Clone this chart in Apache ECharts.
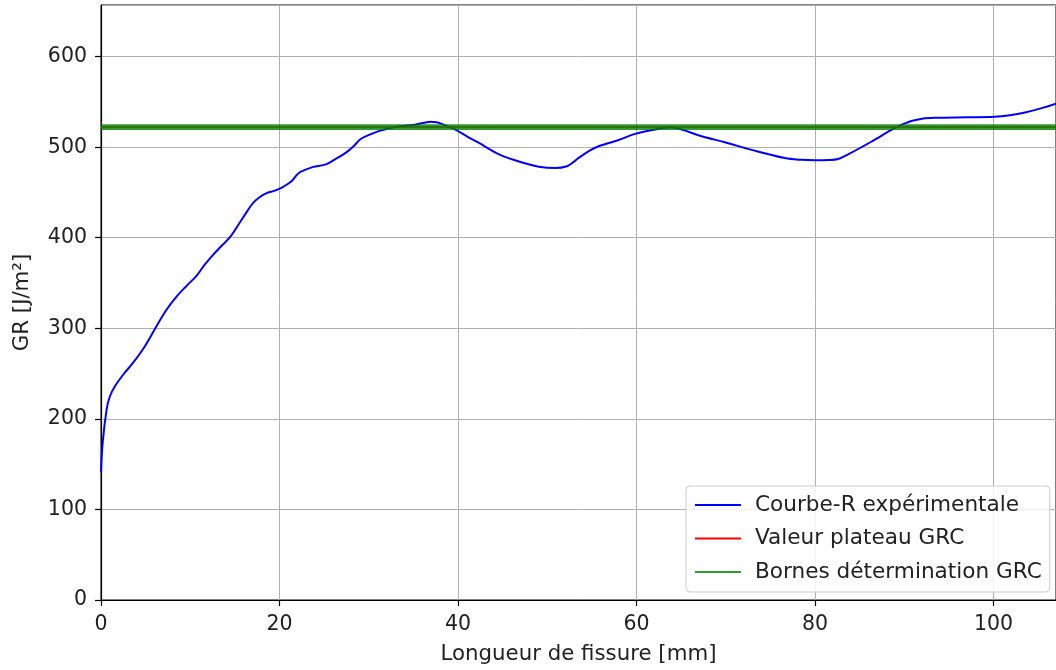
<!DOCTYPE html>
<html>
<head>
<meta charset="utf-8">
<script src="https://cdn.jsdelivr.net/npm/echarts@6/dist/echarts.min.js"></script>
<style>
html,body{margin:0;padding:0;background:#fff;}
#chart{width:1056px;height:670px;}
</style>
</head>
<body>
<div id="chart"></div>
<script>
// Crack length (mm) and experimental R-curve GR (J/m²)
const crackLength = [0, 0.2, 0.64, 1.0, 1.56, 2.5, 3.6, 4.9, 6.2, 7.3, 8.46, 9.6, 10.7, 11.6, 12.55, 13.3, 14.4, 15.5, 16.3, 17.0, 17.8, 18.5, 19.5, 20.2, 21.3, 22.0, 22.4, 23.7, 25.2, 26.3, 27.45, 28.3, 29.1, 30.4, 31.2, 32.3, 33.5, 35.3, 36.2, 36.9, 37.6, 38.1, 39.7, 41.0, 42.3, 44.6, 47.2, 49.05, 50.9, 52.2, 53.0, 53.5, 54.7, 55.75, 58.0, 59.85, 62.1, 63.75, 65.06, 67.3, 69.9, 72.9, 76.6, 78.5, 80.0, 81.5, 82.6, 83.7, 86.3, 88.9, 90.0, 90.8, 92.0, 93.4, 97.1, 100.1, 102.0, 103.4, 105.0, 107.0];
const grValues = [141, 175, 211, 225, 236, 249, 262, 280, 302, 320, 335, 347, 358, 370, 381, 389, 400, 416, 428, 438, 445, 449, 452, 455, 462, 470, 473, 478, 481, 487, 494, 501, 509, 515, 518, 521, 523, 525, 527, 528, 527.5, 526, 519.5, 512, 505, 492, 483, 478.5, 477, 479, 484, 488, 496, 501, 508, 514.7, 519.5, 522, 519.5, 512, 505.5, 497, 488, 486, 485.5, 485.8, 487, 492, 506, 521, 526, 529, 531.5, 532.4, 533, 533.5, 535.5, 538, 542, 548];
const plateauGRC = 522.2;
const boundsGRC = [520.7, 523.7];
const xExtent = [0, 107];
const yExtent = [0, 657];
const xTicks = [0, 20, 40, 60, 80, 100];
const yTicks = [0, 100, 200, 300, 400, 500, 600];
const seriesNames = ['Courbe-R expérimentale', 'Valeur plateau GRC', 'Bornes détermination GRC'];

const curve = crackLength.map((x, i) => [x, grValues[i]]);
const hLine = v => [[xExtent[0], v], [xExtent[1], v]];

const chart = echarts.init(document.getElementById('chart'), null, {renderer: 'canvas'});
const font = 'DejaVu Sans';
chart.setOption({
  animation: false,
  backgroundColor: '#ffffff',
  grid: {left: 101, top: 5, width: 958, height: 596, show: true, borderColor: '#000', borderWidth: 1, backgroundColor: 'transparent'},
  xAxis: {
    type: 'value', min: xExtent[0], max: xExtent[1], interval: 20,
    name: 'Longueur de fissure [mm]', nameLocation: 'middle', nameGap: 44,
    nameTextStyle: {fontFamily: font, fontSize: 21.3, color: '#222'},
    axisLine: {lineStyle: {color: '#000', width: 1.2}},
    axisTick: {show: true, length: 6, lineStyle: {color: '#000', width: 1.2}},
    axisLabel: {fontFamily: font, fontSize: 20.5, color: '#222', margin: 14, showMaxLabel: false,
      formatter: v => xTicks.includes(v) ? String(v) : ''},
    splitLine: {show: true, lineStyle: {color: '#b0b0b0', width: 1}}
  },
  yAxis: {
    type: 'value', min: yExtent[0], max: yExtent[1], interval: 100,
    name: 'GR [J/m²]', nameLocation: 'middle', nameGap: 68,
    nameTextStyle: {fontFamily: font, fontSize: 21.3, color: '#222'},
    axisLine: {show: true, lineStyle: {color: '#000', width: 1.2}},
    axisTick: {show: true, length: 6, lineStyle: {color: '#000', width: 1.2}},
    axisLabel: {fontFamily: font, fontSize: 20.5, color: '#222', margin: 14, showMaxLabel: false,
      formatter: v => yTicks.includes(v) ? String(v) : ''},
    splitLine: {show: true, lineStyle: {color: '#b0b0b0', width: 1}}
  },
  legend: {
    orient: 'vertical', left: 686, top: 486,
    padding: [8, 8, 9, 8],
    itemWidth: 46, itemHeight: 10, itemGap: 11.5,
    itemStyle: {opacity: 0},
    backgroundColor: 'rgba(255,255,255,0.85)', borderColor: '#cccccc', borderWidth: 1, borderRadius: 4,
    textStyle: {fontFamily: font, fontSize: 21.6, color: '#222', lineHeight: 21.5, padding: [0, 0, 0, 9]},
    data: seriesNames
  },
  series: [
    {name: seriesNames[0], type: 'line', data: curve, smooth: 0.35, symbol: 'none', showSymbol: false,
      lineStyle: {color: '#0000ff', width: 2}, itemStyle: {color: '#0000ff'}, z: 3},
    {name: seriesNames[1], type: 'line', data: hLine(plateauGRC), symbol: 'none', showSymbol: false,
      lineStyle: {color: '#ff0000', width: 1.5}, itemStyle: {color: '#ff0000'}, z: 4},
    {name: seriesNames[2], type: 'line', data: hLine(boundsGRC[0]), symbol: 'none', showSymbol: false,
      lineStyle: {color: '#008000', width: 3, opacity: 0.8}, itemStyle: {color: '#008000'}, z: 5},
    {name: seriesNames[2], type: 'line', data: hLine(boundsGRC[1]), symbol: 'none', showSymbol: false,
      lineStyle: {color: '#008000', width: 3, opacity: 0.8}, itemStyle: {color: '#008000'}, z: 5}
  ]
});
</script>
</body>
</html>
